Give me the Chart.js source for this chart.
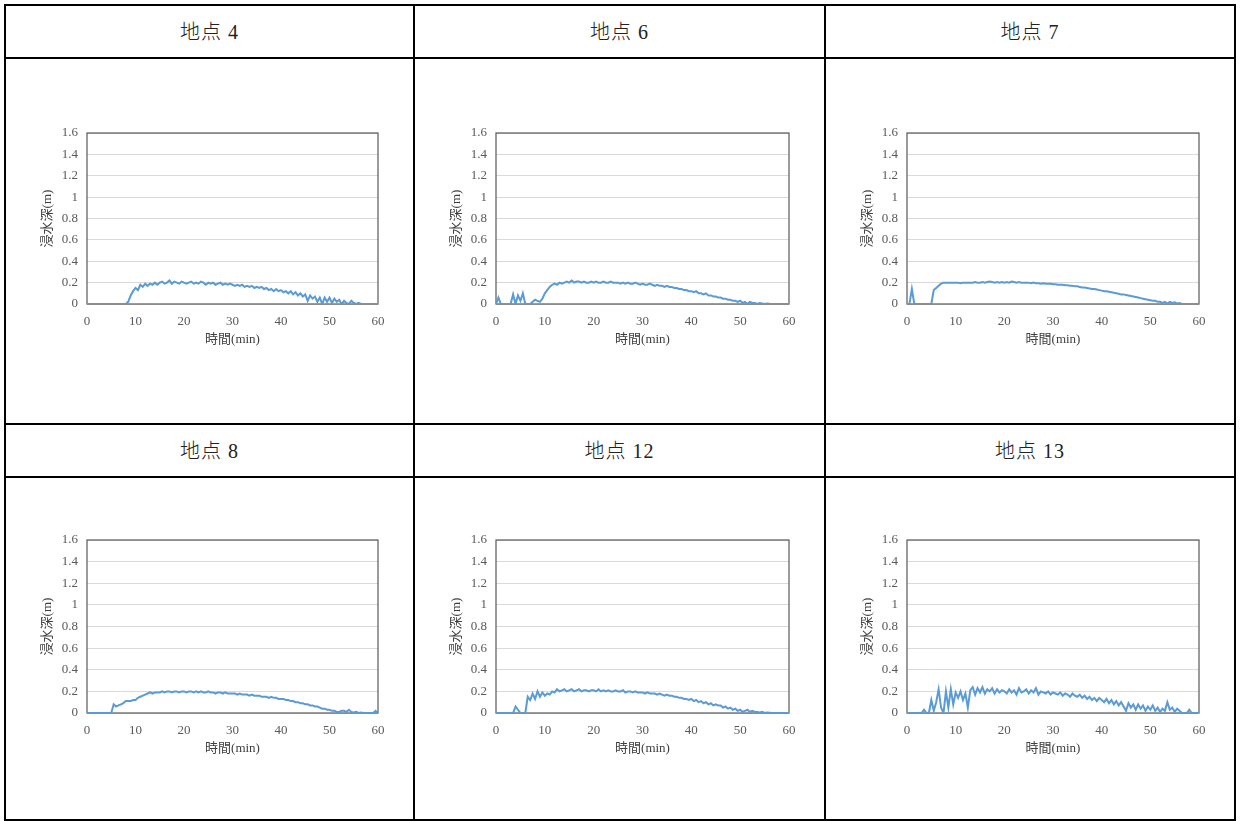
<!DOCTYPE html>
<html>

<head>
    <meta charset="utf-8">
    <title>浸水深</title>
    <script src="https://cdn.jsdelivr.net/npm/chart.js"></script>
    <style>
        body {
            margin: 0;
            background: #fff;
            width: 1240px;
            height: 821px;
            position: relative;
            overflow: hidden;
            font-family: "Liberation Serif", "Noto Sans CJK JP", serif;
        }

        .rule {
            position: absolute;
            background: #000;
        }

        .head {
            position: absolute;
            text-align: center;
            font-size: 20px;
            font-weight: 300;
            color: #222;
            letter-spacing: 1px;
        }

        canvas {
            position: absolute;
        }
    </style>
</head>

<body>
    <script>
        // station names
        var stations = ['地点 4', '地点 6', '地点 7', '地点 8', '地点 12', '地点 13'];

        // axis ticks
        var xTicks = [0, 10, 20, 30, 40, 50, 60];
        var yTicks = [0, 0.2, 0.4, 0.6, 0.8, 1, 1.2, 1.4, 1.6];
        var xTitle = '時間(min)';
        var yTitle = '浸水深(m)';

        // depth (m) sampled every 0.5 min, 0 .. 60 min (one row = 5 min)
        var depth4 = [
            0, 0, 0, 0, 0, 0, 0, 0, 0, 0,
            0, 0, 0, 0, 0, 0, 0, 0.02, 0.08, 0.12,
            0.15, 0.13, 0.18, 0.16, 0.19, 0.17, 0.19, 0.18, 0.2, 0.18,
            0.2, 0.21, 0.19, 0.2, 0.22, 0.19, 0.21, 0.2, 0.19, 0.21,
            0.2, 0.19, 0.2, 0.21, 0.19, 0.2, 0.19, 0.21, 0.2, 0.18,
            0.2, 0.19, 0.2, 0.18, 0.19, 0.2, 0.18, 0.19, 0.18, 0.19,
            0.18, 0.17, 0.18, 0.17, 0.18, 0.16, 0.17, 0.16, 0.17, 0.15,
            0.16, 0.15, 0.16, 0.14, 0.15, 0.13, 0.14, 0.12, 0.14, 0.12,
            0.13, 0.11, 0.12, 0.1, 0.12, 0.09, 0.11, 0.08, 0.1, 0.07,
            0.09, 0.03, 0.08, 0.05, 0.07, 0.02, 0.06, 0, 0.06, 0.02,
            0.06, 0.01, 0.05, 0.02, 0.04, 0, 0.03, 0.01, 0, 0.03,
            0.01, 0, 0.01, 0, 0, 0, 0, 0, 0, 0,
            0
        ];
        var depth6 = [
            0, 0.06, 0, 0, 0, 0, 0, 0.09, 0, 0.08,
            0.03, 0.1, 0, 0, 0, 0.02, 0.04, 0.03, 0.02, 0.05,
            0.1, 0.13, 0.16, 0.18, 0.19, 0.18, 0.2, 0.19, 0.2, 0.21,
            0.2, 0.22, 0.2, 0.21, 0.21, 0.2, 0.21, 0.2, 0.2, 0.21,
            0.2, 0.21, 0.2, 0.2, 0.21, 0.2, 0.2, 0.21, 0.2, 0.2,
            0.2, 0.19, 0.2, 0.19, 0.2, 0.19, 0.19, 0.2, 0.19, 0.18,
            0.19, 0.18, 0.18, 0.19, 0.18, 0.17, 0.18, 0.17, 0.17, 0.16,
            0.17, 0.16, 0.16, 0.15, 0.15, 0.14, 0.14, 0.13, 0.13, 0.12,
            0.12, 0.11, 0.12, 0.1, 0.1, 0.09, 0.1, 0.08, 0.08, 0.07,
            0.07, 0.06, 0.06, 0.05, 0.05, 0.04, 0.04, 0.03, 0.03, 0.02,
            0.03, 0.01, 0.02, 0, 0.02, 0.01, 0.01, 0, 0.01, 0.005,
            0, 0.005, 0.002, 0, 0, 0, 0, 0, 0, 0,
            0
        ];
        var depth7 = [
            0, 0, 0.14, 0, 0, 0, 0, 0, 0, 0,
            0, 0.13, 0.15, 0.17, 0.19, 0.2, 0.2, 0.2, 0.2, 0.2,
            0.2, 0.2, 0.195, 0.2, 0.2, 0.2, 0.2, 0.2, 0.205, 0.2,
            0.2, 0.205, 0.2, 0.205, 0.21, 0.205, 0.2, 0.205, 0.2, 0.205,
            0.2, 0.205, 0.2, 0.21, 0.205, 0.2, 0.205, 0.2, 0.2, 0.2,
            0.2, 0.195, 0.2, 0.195, 0.195, 0.19, 0.195, 0.19, 0.19, 0.19,
            0.185, 0.185, 0.18, 0.18, 0.18, 0.175, 0.175, 0.17, 0.17, 0.165,
            0.165, 0.16, 0.155, 0.155, 0.15, 0.145, 0.14, 0.14, 0.135, 0.13,
            0.125, 0.12, 0.12, 0.115, 0.11, 0.105, 0.1, 0.095, 0.09, 0.09,
            0.085, 0.08, 0.075, 0.07, 0.065, 0.06, 0.055, 0.05, 0.045, 0.04,
            0.035, 0.03, 0.03, 0.02, 0.02, 0.01, 0.02, 0.005, 0.02, 0.01,
            0.015, 0.005, 0.01, 0, 0, 0, 0, 0, 0, 0,
            0
        ];
        var depth8 = [
            0, 0, 0, 0, 0, 0, 0, 0, 0, 0,
            0, 0.08, 0.06, 0.07, 0.08, 0.09, 0.11, 0.11, 0.11, 0.12,
            0.12, 0.14, 0.15, 0.16, 0.17, 0.18, 0.19, 0.18, 0.19, 0.19,
            0.19, 0.2, 0.19, 0.2, 0.2, 0.19, 0.2, 0.2, 0.19, 0.2,
            0.2, 0.19, 0.2, 0.2, 0.19, 0.2, 0.19, 0.2, 0.19, 0.19,
            0.2, 0.19, 0.19, 0.18, 0.19, 0.19, 0.18, 0.19, 0.18, 0.18,
            0.18, 0.18, 0.17, 0.18, 0.17, 0.17, 0.17, 0.16, 0.17, 0.16,
            0.16, 0.16, 0.15, 0.15, 0.15, 0.14, 0.15, 0.14, 0.14, 0.13,
            0.13, 0.13, 0.12, 0.12, 0.11, 0.11, 0.1, 0.1, 0.09, 0.09,
            0.08, 0.08, 0.07, 0.07, 0.06, 0.06, 0.05, 0.04, 0.04, 0.03,
            0.03, 0.02, 0.02, 0.01, 0.01, 0.02, 0.02, 0.01, 0.03, 0.01,
            0.005, 0.01, 0, 0.005, 0, 0, 0, 0, 0, 0.02,
            0
        ];
        var depth12 = [
            0, 0, 0, 0, 0, 0, 0, 0, 0.06, 0.03,
            0, 0, 0, 0.15, 0.12, 0.18, 0.13, 0.2, 0.15, 0.19,
            0.16, 0.18, 0.17, 0.2, 0.19, 0.22, 0.2, 0.21, 0.22, 0.2,
            0.21, 0.22, 0.2, 0.21, 0.22, 0.2, 0.21, 0.21, 0.2, 0.21,
            0.21, 0.2, 0.22, 0.2, 0.21, 0.2, 0.21, 0.2, 0.2, 0.21,
            0.2, 0.2, 0.21, 0.19, 0.2, 0.2, 0.19, 0.2, 0.19, 0.19,
            0.19, 0.18, 0.19, 0.18, 0.18, 0.18, 0.17, 0.18, 0.17, 0.16,
            0.17, 0.16, 0.16, 0.15, 0.15, 0.14, 0.14, 0.13, 0.13, 0.12,
            0.13, 0.11, 0.12, 0.1, 0.11, 0.09, 0.1, 0.08, 0.09, 0.07,
            0.08, 0.07, 0.07, 0.05, 0.06, 0.04, 0.05, 0.03, 0.04, 0.02,
            0.03, 0.01, 0.02, 0.03, 0.01, 0.02, 0.01, 0.01, 0.005, 0.01,
            0, 0.005, 0.003, 0, 0, 0, 0, 0, 0, 0,
            0
        ];
        var depth13 = [
            0, 0, 0, 0, 0, 0, 0, 0.03, 0, 0,
            0.12, 0.02, 0.1, 0.22, 0.05, 0, 0.2, 0.05, 0.22, 0.08,
            0.19, 0.14, 0.2, 0.12, 0.18, 0.05, 0.21, 0.24, 0.17, 0.23,
            0.19, 0.24, 0.18, 0.22, 0.2, 0.23, 0.18, 0.22, 0.19, 0.21,
            0.2, 0.18, 0.22, 0.19, 0.21, 0.17, 0.23, 0.19, 0.2, 0.22,
            0.18, 0.21, 0.19, 0.23, 0.17, 0.2, 0.19, 0.18, 0.2, 0.17,
            0.19, 0.18, 0.17, 0.19, 0.16, 0.18, 0.17, 0.15, 0.18, 0.16,
            0.15, 0.17, 0.14, 0.16, 0.13, 0.15, 0.12, 0.14, 0.11, 0.14,
            0.12, 0.1, 0.13, 0.09, 0.12, 0.08, 0.11, 0.07, 0.1, 0.06,
            0.02, 0.09, 0.05, 0.08, 0.03, 0.08, 0.04, 0.07, 0.02, 0.06,
            0.03, 0.07, 0.02, 0.05, 0.01, 0.04, 0.02, 0.1, 0.03, 0.05,
            0.01, 0.04, 0.02, 0, 0, 0, 0.03, 0, 0, 0,
            0
        ];
        var series = [depth4, depth6, depth7, depth8, depth12, depth13];

        // page layout: table rules, cells and plot rectangles
        var colLines = [4, 413, 824, 1234];
        var rowLines = [4, 57, 423, 476, 819];
        var cellX = [6, 415, 826];
        var cellW = [407, 409, 408];
        var cellY = [59, 478];
        var cellH = [364, 341];
        var headY = [8, 427];
        var plotL = [87, 496, 907];
        var plotR = [378, 789, 1199];
        var plotT = [133, 540];
        var plotB = [304, 713];
        var Y_AXIS_W = 47;
        var X_AXIS_H = 43;
        var axisFont = '"Liberation Serif", "Noto Sans CJK JP"';

        colLines.forEach(function (x) {
            var d = document.createElement('div');
            d.className = 'rule';
            d.style.cssText = 'left:' + x + 'px;top:4px;width:2px;height:817px;';
            document.body.appendChild(d);
        });
        rowLines.forEach(function (y) {
            var d = document.createElement('div');
            d.className = 'rule';
            d.style.cssText = 'left:4px;top:' + y + 'px;width:1232px;height:2px;';
            document.body.appendChild(d);
        });

        // frame around the plot area, drawn under the data line
        var framePlugin = {
            id: 'frame',
            beforeDatasetsDraw: function (chart) {
                var a = chart.chartArea;
                var ctx = chart.ctx;
                ctx.save();
                ctx.strokeStyle = '#595959';
                ctx.lineWidth = 1.2;
                ctx.strokeRect(a.left, a.top, a.right - a.left, a.bottom - a.top);
                ctx.restore();
            }
        };

        for (var i = 0; i < stations.length; i++) {
            var r = Math.floor(i / 3), c = i % 3;

            var h = document.createElement('div');
            h.className = 'head';
            h.style.left = cellX[c] + 'px';
            h.style.width = cellW[c] + 'px';
            h.style.top = headY[r] + 'px';
            h.style.height = '49px';
            h.style.lineHeight = '49px';
            h.textContent = stations[i];
            document.body.appendChild(h);

            var cv = document.createElement('canvas');
            cv.width = cellW[c];
            cv.height = cellH[r];
            cv.style.left = cellX[c] + 'px';
            cv.style.top = cellY[r] + 'px';
            document.body.appendChild(cv);

            var pts = [];
            for (var k = 0; k < series[i].length; k++) {
                pts.push({ x: k * 0.5, y: series[i][k] });
            }

            new Chart(cv.getContext('2d'), {
                type: 'line',
                data: {
                    datasets: [{
                        data: pts,
                        borderColor: '#5B9BD5',
                        borderWidth: 2,
                        pointRadius: 0,
                        tension: 0,
                        fill: false
                    }]
                },
                options: {
                    responsive: false,
                    animation: false,
                    devicePixelRatio: 1,
                    layout: {
                        padding: {
                            left: plotL[c] - cellX[c] - Y_AXIS_W,
                            right: cellX[c] + cellW[c] - plotR[c],
                            top: plotT[r] - cellY[r],
                            bottom: cellY[r] + cellH[r] - plotB[r] - X_AXIS_H
                        }
                    },
                    plugins: {
                        legend: { display: false },
                        tooltip: { enabled: false }
                    },
                    scales: {
                        x: {
                            type: 'linear',
                            min: 0,
                            max: 60,
                            afterBuildTicks: function (s) {
                                s.ticks = xTicks.map(function (v) { return { value: v }; });
                            },
                            afterFit: function (s) { s.height = X_AXIS_H; },
                            grid: { display: false, drawTicks: false },
                            border: { display: false },
                            ticks: {
                                padding: 10,
                                color: '#595959',
                                maxRotation: 0,
                                font: { size: 13, family: axisFont }
                            },
                            title: {
                                display: true,
                                text: xTitle,
                                color: '#404040',
                                padding: { top: 0, bottom: 0 },
                                font: { size: 13, family: axisFont }
                            }
                        },
                        y: {
                            min: 0,
                            max: 1.6,
                            afterBuildTicks: function (s) {
                                s.ticks = yTicks.map(function (v) { return { value: v }; });
                            },
                            afterFit: function (s) { s.width = Y_AXIS_W; },
                            grid: { color: '#d9d9d9', lineWidth: 1, drawTicks: false },
                            border: { display: false },
                            ticks: {
                                padding: 9,
                                color: '#595959',
                                font: { size: 13, family: axisFont },
                                callback: function (v) { return String(Math.round(v * 10) / 10); }
                            },
                            title: {
                                display: true,
                                text: yTitle,
                                color: '#404040',
                                padding: { top: 0, bottom: 0 },
                                font: { size: 13, family: axisFont }
                            }
                        }
                    }
                },
                plugins: [framePlugin]
            });
        }
    </script>
</body>

</html>
